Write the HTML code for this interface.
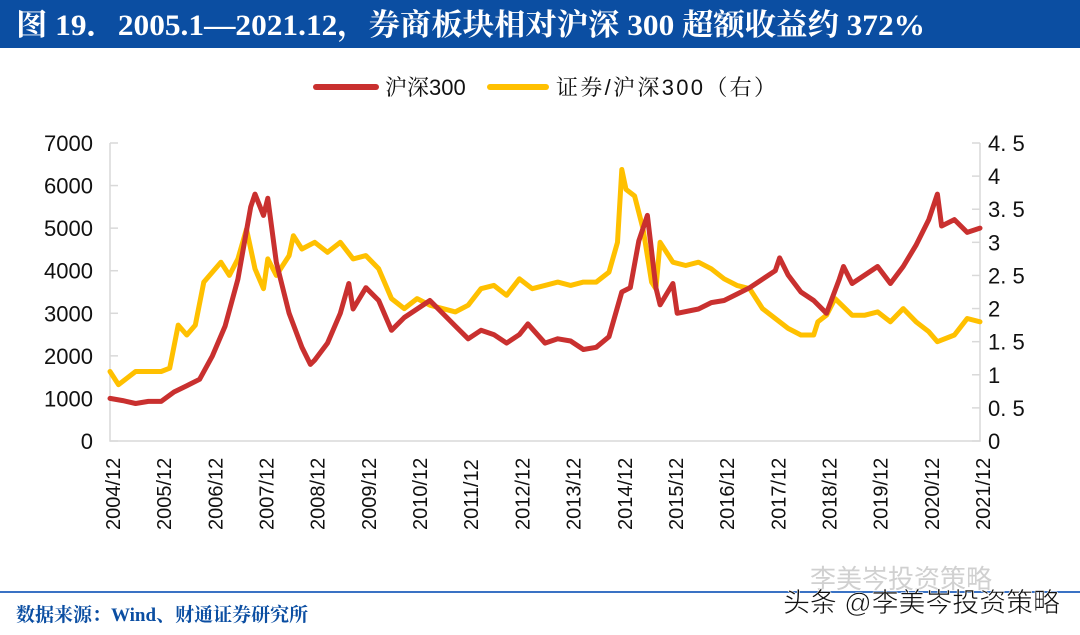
<!DOCTYPE html>
<html><head><meta charset="utf-8"><style>
body{margin:0;width:1080px;height:630px;background:#fff;overflow:hidden;font-family:"Liberation Sans","Noto Sans CJK SC",sans-serif;}
</style></head><body>
<svg width="1080" height="630" xmlns="http://www.w3.org/2000/svg">
<rect x="0" y="0" width="1080" height="48" fill="#0B4EA2"/>
<text x="16" y="35" fill="#fff" font-size="30" font-weight="bold" textLength="909" lengthAdjust="spacingAndGlyphs" font-family="'Liberation Serif','Noto Serif CJK SC',serif">图 19．2005.1—2021.12，券商板块相对沪深 300 超额收益约 372%</text>
<g>
<line x1="316" y1="87" x2="376" y2="87" stroke="#C9302F" stroke-width="6" stroke-linecap="round"/>
<text x="385" y="95" font-size="22" fill="#111" font-family="'Liberation Sans','Noto Serif CJK SC',serif">沪深300</text>
<line x1="490" y1="87" x2="546" y2="87" stroke="#FFC000" stroke-width="6" stroke-linecap="round"/>
<text x="556" y="95" font-size="22" fill="#111" font-family="'Liberation Sans','Noto Serif CJK SC',serif" textLength="220">证券/沪深300（右）</text>
</g>
<g id="axes"></g>
<g id="series"></g>
<line x1="0" y1="592" x2="1080" y2="592" stroke="#3A72C4" stroke-width="2"/>
<text x="16" y="621" font-size="19" font-weight="bold" fill="#0B4EA2" font-family="'Liberation Serif','Noto Serif CJK SC',serif">数据来源：Wind、财通证券研究所</text>
<text x="810" y="588" font-size="26" fill="#d0d0d0">李美岑投资策略</text>
<text x="783" y="612" font-size="27" fill="#111" stroke="#fff" stroke-width="0.6" textLength="277">头条 @李美岑投资策略</text>
</svg>
<script>
const leftTicks=[0,1000,2000,3000,4000,5000,6000,7000];
const rightTicks=["0","0. 5","1","1. 5","2","2. 5","3","3. 5","4","4. 5"];
const xLabels=["2004/12","2005/12","2006/12","2007/12","2008/12","2009/12","2010/12","2011/12","2012/12","2013/12","2014/12","2015/12","2016/12","2017/12","2018/12","2019/12","2020/12","2021/12"];
const hsDates=["2004-12","2005-03","2005-06","2005-09","2005-12","2006-03","2006-06","2006-09","2006-12","2007-03","2007-06","2007-09","2007-10","2007-12","2008-01","2008-03","2008-06","2008-09","2008-11","2008-12","2009-03","2009-06","2009-08","2009-09","2009-12","2010-03","2010-06","2010-09","2010-12","2011-03","2011-06","2011-09","2011-12","2012-03","2012-06","2012-09","2012-12","2013-02","2013-06","2013-09","2013-12","2014-03","2014-06","2014-09","2014-12","2015-02","2015-04","2015-06","2015-08","2015-09","2015-12","2016-01","2016-06","2016-09","2016-12","2017-03","2017-06","2017-09","2017-12","2018-01","2018-03","2018-06","2018-09","2018-12","2019-03","2019-04","2019-06","2019-09","2019-12","2020-03","2020-06","2020-09","2020-12","2021-02","2021-03","2021-06","2021-09","2021-12"];
const hsValues=[1000,950,880,930,930,1150,1300,1450,2000,2700,3800,5500,5800,5300,5700,4200,3000,2200,1800,1900,2300,3000,3700,3100,3600,3300,2600,2900,3100,3300,3000,2700,2400,2600,2500,2300,2500,2750,2300,2400,2350,2150,2200,2450,3500,3600,4700,5300,3600,3200,3700,3000,3100,3250,3300,3450,3600,3800,4000,4300,3900,3500,3300,3000,3800,4100,3700,3900,4100,3700,4100,4600,5200,5800,5050,5200,4900,5000];
const ratioDates=["2004-12","2005-02","2005-06","2005-12","2006-02","2006-04","2006-06","2006-08","2006-10","2006-12","2007-02","2007-04","2007-06","2007-08","2007-10","2007-12","2008-01","2008-03","2008-06","2008-07","2008-09","2008-12","2009-03","2009-06","2009-09","2009-12","2010-03","2010-06","2010-09","2010-12","2011-03","2011-06","2011-09","2011-12","2012-03","2012-06","2012-09","2012-12","2013-03","2013-06","2013-09","2013-12","2014-03","2014-06","2014-09","2014-11","2014-12","2015-01","2015-03","2015-05","2015-07","2015-08","2015-09","2015-12","2016-03","2016-06","2016-09","2016-12","2017-03","2017-06","2017-09","2017-12","2018-03","2018-06","2018-09","2018-10","2018-12","2019-02","2019-06","2019-09","2019-12","2020-03","2020-06","2020-09","2020-12","2021-02","2021-06","2021-09","2021-12"];
const ratioValues=[1.05,0.85,1.05,1.05,1.1,1.75,1.6,1.75,2.4,2.55,2.7,2.5,2.75,3.2,2.6,2.3,2.75,2.5,2.8,3.1,2.9,3.0,2.85,3.0,2.75,2.8,2.6,2.15,2.0,2.15,2.05,2.0,1.95,2.05,2.3,2.35,2.2,2.45,2.3,2.35,2.4,2.35,2.4,2.4,2.55,3.0,4.1,3.8,3.7,3.2,2.4,2.3,3.0,2.7,2.65,2.7,2.6,2.45,2.35,2.3,2.0,1.85,1.7,1.6,1.6,1.8,1.9,2.15,1.9,1.9,1.95,1.8,2.0,1.8,1.65,1.5,1.6,1.85,1.8];

const NS="http://www.w3.org/2000/svg";
const X0=110,X1=980,Y0=441,Y1=143;
function t(d){const [y,m]=d.split("-").map(Number);return y+(m-1)/12;}
const T0=t("2004-12"),T1=t("2021-12");
function xs(d){return X0+(t(d)-T0)/(T1-T0)*(X1-X0);}
function yl(v){return Y0-v/7000*(Y0-Y1);}
function yr(v){return Y0-v/4.5*(Y0-Y1);}
function mk(tag,attrs,parent){const e=document.createElementNS(NS,tag);for(const k in attrs)e.setAttribute(k,attrs[k]);parent.appendChild(e);return e;}
const ax=document.getElementById("axes");
let e=mk("path",{d:`M${X0},${Y1} V${Y0} H${X1} V${Y1}`,fill:"none",stroke:"#d9d9d9","stroke-width":1.5},ax);


leftTicks.forEach(v=>{
  const y=yl(v);
  const tk=mk("line",{x1:X0,x2:X0+8,y1:y,y2:y,stroke:"#d9d9d9","stroke-width":1.5},ax);
  
  
  const tx=mk("text",{x:93,y:y+8,"text-anchor":"end","font-size":22,fill:"#111"},ax);
  tx.textContent=v;
  
  
});
rightTicks.forEach((s,i)=>{
  const y=yr(i*0.5);
  const tk=mk("line",{x1:X1-8,x2:X1,y1:y,y2:y,stroke:"#d9d9d9","stroke-width":1.5},ax);
  
  
  const tx=mk("text",{x:988,y:y+8,"font-size":22,fill:"#111","xml:space":"preserve"},ax);
  tx.textContent=s;
  
  
});
xLabels.forEach((s,i)=>{
  const x=113+i*(983-113)/17;
  const tx=mk("text",{x:0,y:0,transform:`translate(${x+7},530) rotate(-90)`,"font-size":20,fill:"#111"},ax);
  tx.textContent=s;
  
  
});
const sg=document.getElementById("series");
function line(dates,vals,yf,color,name){
  const d=dates.map((dt,i)=>(i?"L":"M")+xs(dt).toFixed(1)+","+yf(vals[i]).toFixed(1)).join(" ");
  const p=mk("path",{d:d,fill:"none",stroke:color,"stroke-width":5,"stroke-linejoin":"round","stroke-linecap":"round"},sg);
  
  
}
line(ratioDates,ratioValues,yr,"#FFC000","ratio-line");
line(hsDates,hsValues,yl,"#C9302F","hs300-line");
</script>
</body></html>
